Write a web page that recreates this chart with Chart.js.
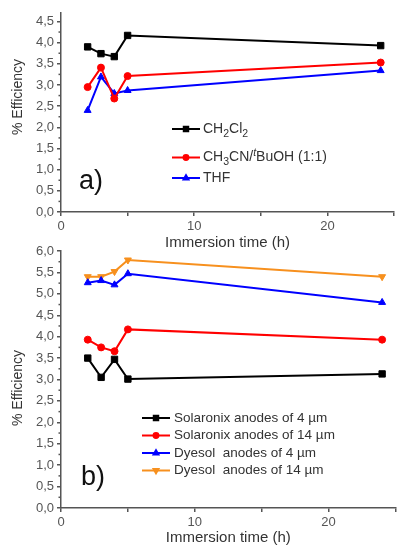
<!DOCTYPE html>
<html>
<head>
<meta charset="utf-8">
<script src="https://cdn.jsdelivr.net/npm/chart.js@4.4.1/dist/chart.umd.min.js"></script>
<style>
  body { margin: 0; background: #fff; }
  #wrap { position: relative; width: 401px; height: 547px; }
  canvas { position: absolute; left: 0; }
</style>
</head>
<body>
<div id="wrap">
  <canvas id="chartA" width="401" height="252" style="top:0"></canvas>
  <canvas id="chartB" width="401" height="309" style="top:238px"></canvas>
</div>
<script>
// immersion times (h)
const hours = [2, 3, 4, 5, 24];

// panel a) solvents
const ch2cl2 = [3.90, 3.74, 3.67, 4.17, 3.93];
const acnTbuoh = [2.95, 3.41, 2.68, 3.21, 3.53];
const thf = [2.40, 3.19, 2.80, 2.87, 3.34];

// panel b) anodes
const solaronix4 = [3.50, 3.05, 3.47, 3.01, 3.13];
const solaronix14 = [3.93, 3.75, 3.66, 4.17, 3.93];
const dyesol4 = [5.26, 5.31, 5.21, 5.47, 4.80];
const dyesol14 = [5.40, 5.40, 5.52, 5.79, 5.40];

// legend texts (sub/sup parts)
const labelsA = [
    [{t: 'CH'}, {t: '2', sub: true}, {t: 'Cl'}, {t: '2', sub: true}],
    [{t: 'CH'}, {t: '3', sub: true}, {t: 'CN/'}, {t: 't', sup: true}, {t: 'BuOH (1:1)'}],
    [{t: 'THF'}]
];
const labelsB = [
    [{t: 'Solaronix anodes of 4 \u00b5m'}],
    [{t: 'Solaronix anodes of 14 \u00b5m'}],
    [{t: 'Dyesol  anodes of 4 \u00b5m'}],
    [{t: 'Dyesol  anodes of 14 \u00b5m'}]
];

const axisColor = '#555';
const fontFamily = '"Liberation Sans", Arial, sans-serif';
Chart.defaults.font.family = fontFamily;

function pts(ys) {
    return hours.map((h, i) => ({x: h, y: ys[i]}));
}

function series(ys, color, style, radius, rotation) {
    return {
        data: pts(ys),
        borderColor: color,
        backgroundColor: color,
        borderWidth: 2,
        pointStyle: style,
        pointRadius: radius,
        pointRotation: rotation || 0,
        pointBorderWidth: 1,
        tension: 0
    };
}

function drawRich(ctx, parts, x, y, size) {
    parts.forEach(p => {
        let s = size, dy = 0, style = '';
        if (p.sub) { s = size * 0.75; dy = size * 0.35; }
        if (p.sup) { s = size * 0.75; dy = -size * 0.35; style = 'italic '; }
        ctx.font = style + s + 'px ' + fontFamily;
        ctx.fillText(p.t, x, y + dy);
        x += ctx.measureText(p.t).width;
    });
}

function overlay(opts) {
    return {
        id: 'overlay',
        afterDraw(chart) {
            const ctx = chart.ctx;
            const ys = chart.scales.y;
            ctx.save();
            // minor y ticks
            ctx.strokeStyle = axisColor;
            ctx.lineWidth = 1.5;
            for (let v = 0.25; v < ys.max; v += 0.5) {
                const py = ys.getPixelForValue(v);
                ctx.beginPath();
                ctx.moveTo(ys.right - 2.5, py);
                ctx.lineTo(ys.right, py);
                ctx.stroke();
            }
            // panel letter
            ctx.fillStyle = '#111';
            ctx.font = '27px ' + fontFamily;
            ctx.textBaseline = 'middle';
            ctx.textAlign = 'left';
            ctx.fillText(opts.letter, opts.letterX, opts.letterY);
            // legend
            opts.rows.forEach((ry, i) => {
                const ds = chart.data.datasets[i];
                ctx.strokeStyle = ds.borderColor;
                ctx.fillStyle = ds.borderColor;
                ctx.lineWidth = 2;
                ctx.beginPath();
                ctx.moveTo(opts.lx0, ry);
                ctx.lineTo(opts.lx1, ry);
                ctx.stroke();
                Chart.helpers.drawPoint(ctx, {
                    pointStyle: ds.pointStyle,
                    rotation: ds.pointRotation,
                    radius: ds.pointRadius * 0.7,
                    borderWidth: 1
                }, (opts.lx0 + opts.lx1) / 2, ry);
                ctx.fillStyle = '#333';
                drawRich(ctx, opts.labels[i], opts.tx, ry, opts.fontSize);
            });
            // y title
            ctx.translate(18, opts.titleY);
            ctx.rotate(-Math.PI / 2);
            ctx.font = '14px ' + fontFamily;
            ctx.fillStyle = '#333';
            ctx.textAlign = 'center';
            ctx.fillText('% Efficiency', 0, 0);
            ctx.restore();
        }
    };
}

function makeOptions(yMax, xHeight, padRight, padTop) {
    return {
        responsive: false,
        animation: false,
        layout: {padding: {top: padTop, right: padRight, bottom: 0, left: 0}},
        plugins: {legend: {display: false}, tooltip: {enabled: false}},
        scales: {
            x: {
                type: 'linear',
                min: 0, max: 25,
                afterFit: s => { s.height = xHeight; },
                border: {color: axisColor, width: 1.5},
                grid: {drawOnChartArea: false, tickLength: 4, color: axisColor, lineWidth: 1.5},
                ticks: {
                    stepSize: 5,
                    color: '#555',
                    font: {size: 13},
                    maxRotation: 0,
                    callback: v => (v % 10 === 0 ? String(v) : '')
                },
                title: {display: true, text: 'Immersion time (h)', color: '#333', font: {size: 15}, padding: 0}
            },
            y: {
                min: 0, max: yMax,
                afterFit: s => { s.width = 61; },
                border: {color: axisColor, width: 1.5},
                grid: {drawOnChartArea: false, tickLength: 4, color: axisColor, lineWidth: 1.5},
                ticks: {
                    stepSize: 0.5,
                    includeBounds: false,
                    color: '#555',
                    font: {size: 13},
                    padding: 3,
                    callback: v => v.toFixed(1).replace('.', ',')
                }
            }
        }
    };
}

new Chart(document.getElementById('chartA'), {
    type: 'line',
    data: {
        datasets: [
            series(ch2cl2, '#000000', 'rect', 4.5),
            series(acnTbuoh, '#ff0000', 'circle', 3.5),
            series(thf, '#0000ff', 'triangle', 4)
        ]
    },
    options: makeOptions(4.7, 40, 7, 13),
    plugins: [overlay({
        letter: 'a)', letterX: 79, letterY: 182,
        rows: [129, 157.5, 178], lx0: 172, lx1: 200, tx: 203, fontSize: 14,
        labels: labelsA, titleY: 97
    })]
});

new Chart(document.getElementById('chartB'), {
    type: 'line',
    data: {
        datasets: [
            series(solaronix4, '#000000', 'rect', 4.5),
            series(solaronix14, '#ff0000', 'circle', 3.5),
            series(dyesol4, '#0000ff', 'triangle', 4),
            series(dyesol14, '#f7901e', 'triangle', 4, 180)
        ]
    },
    options: makeOptions(6.0, 39, 0, 13),
    plugins: [overlay({
        letter: 'b)', letterX: 81, letterY: 240,
        rows: [180, 197.5, 215, 232.5], lx0: 142, lx1: 170, tx: 174, fontSize: 13.5,
        labels: labelsB, titleY: 150
    })]
});
</script>
</body>
</html>
